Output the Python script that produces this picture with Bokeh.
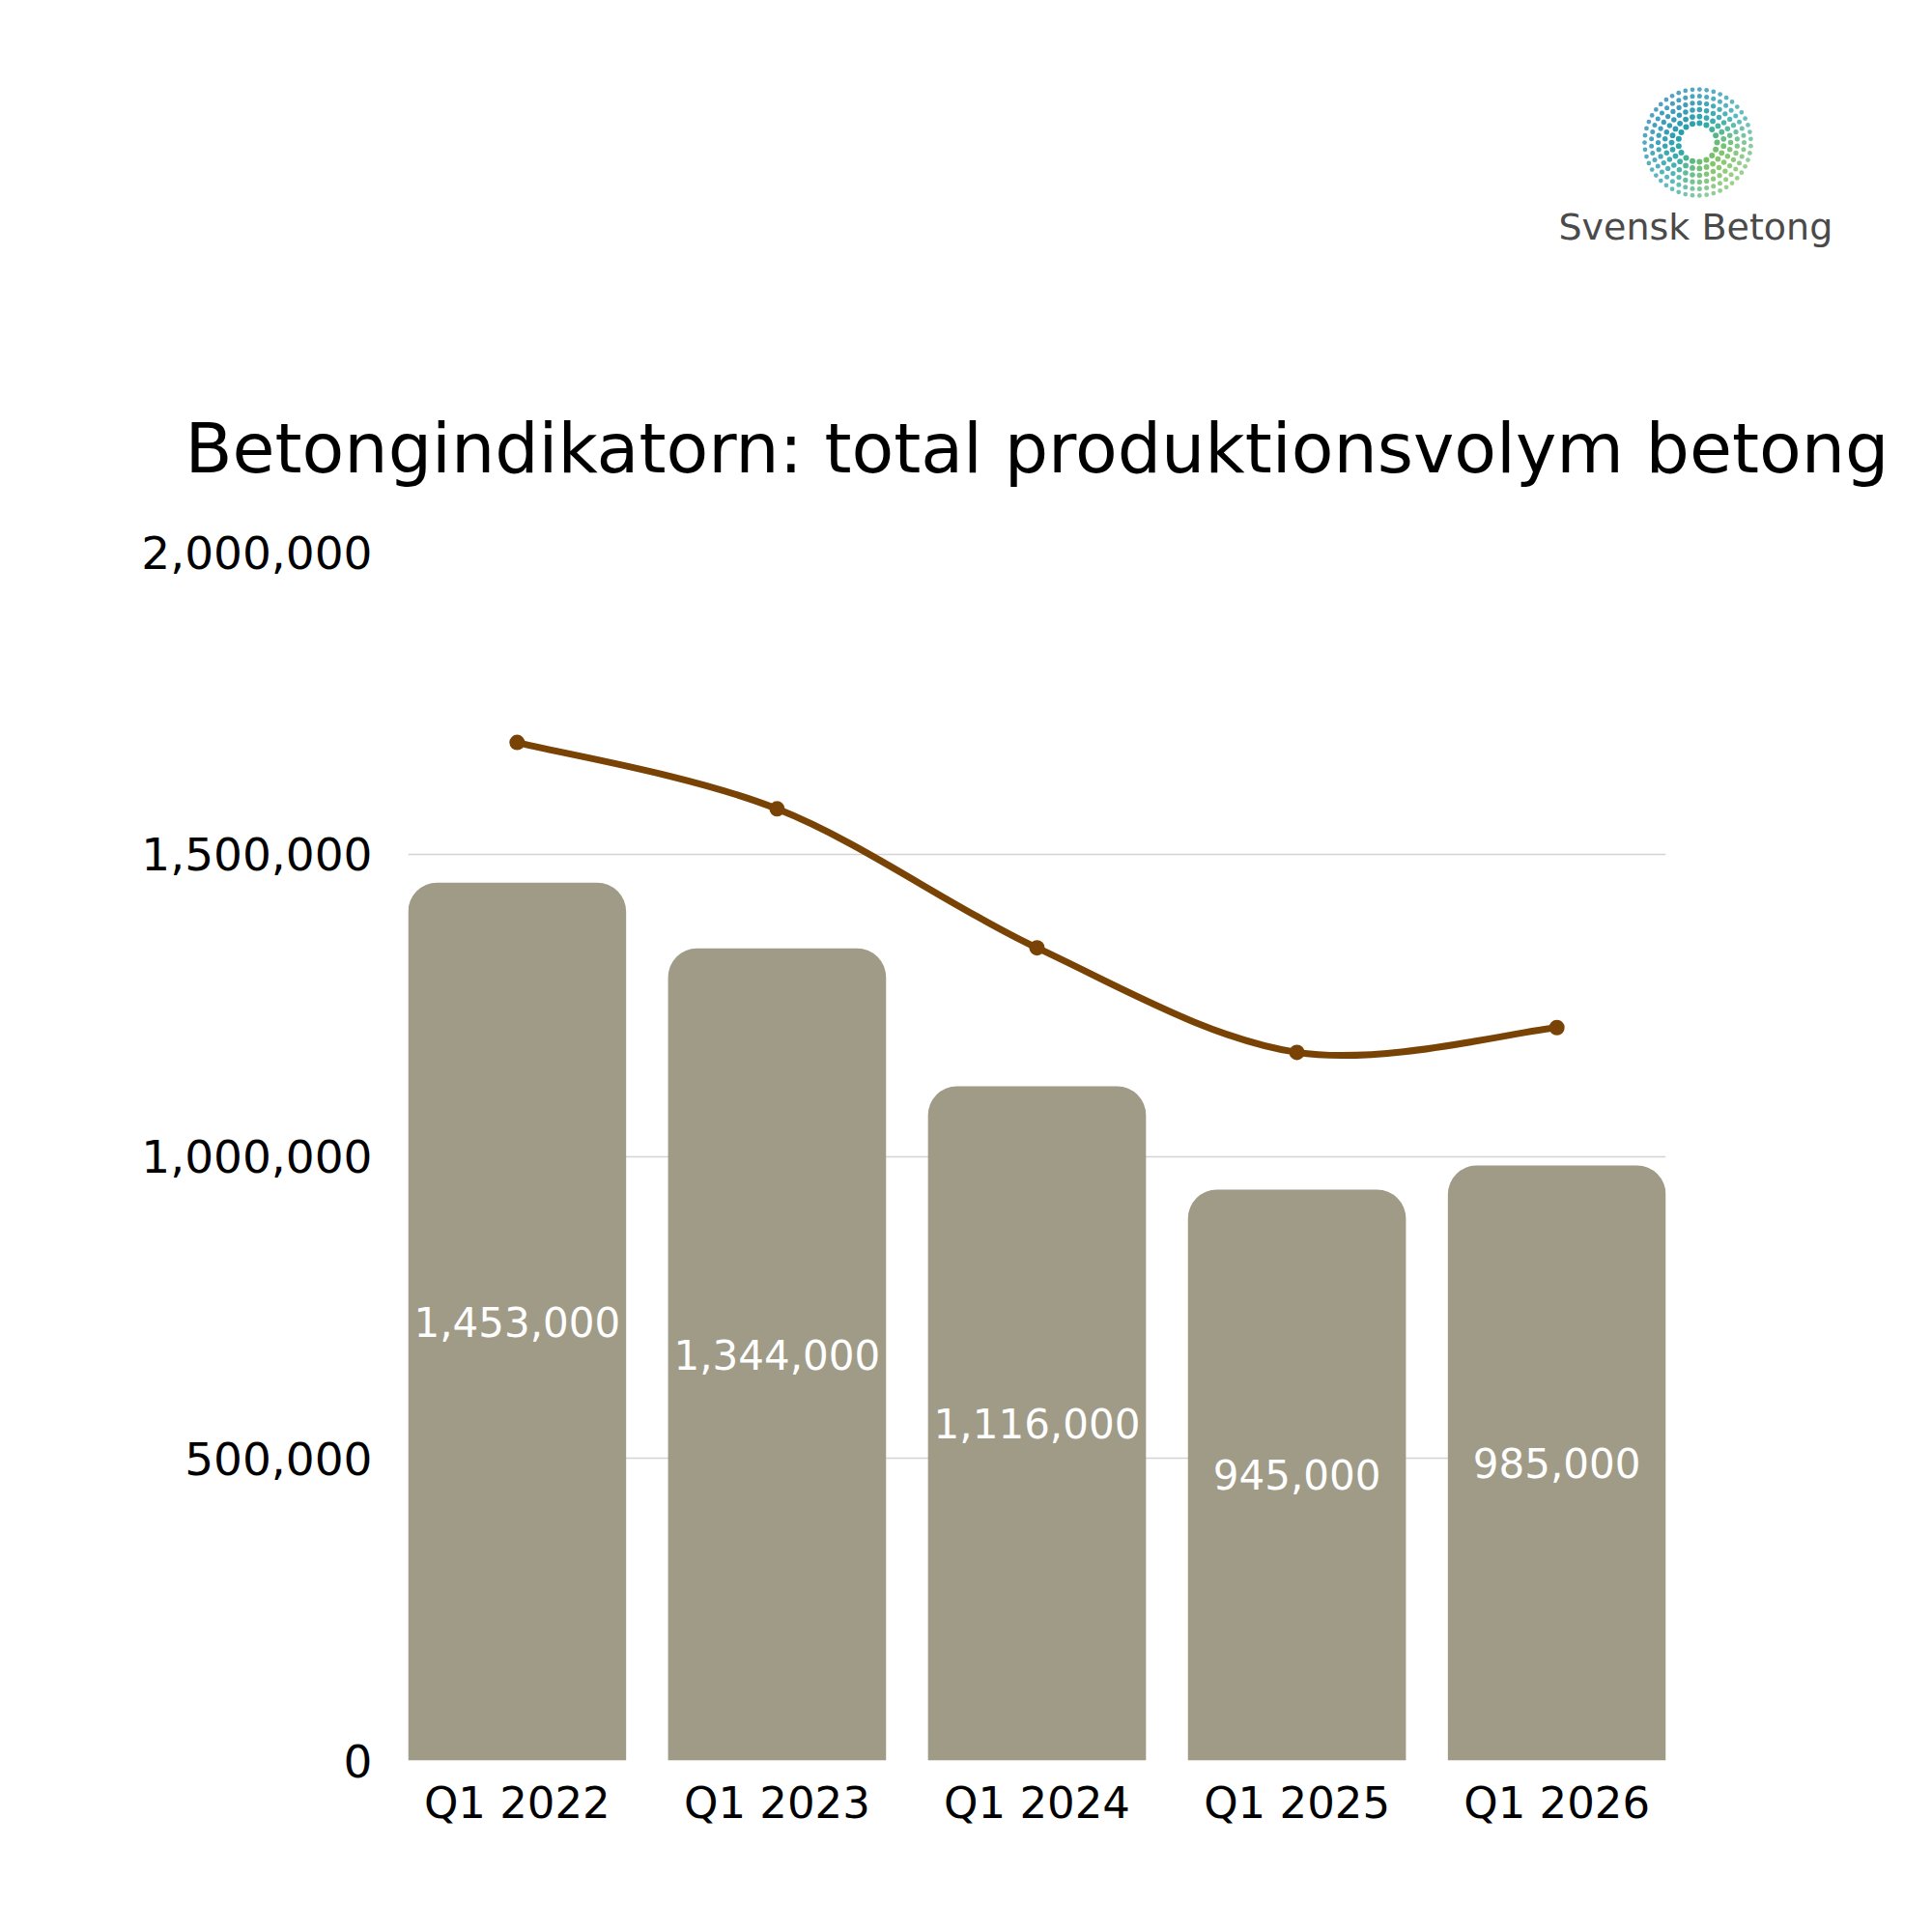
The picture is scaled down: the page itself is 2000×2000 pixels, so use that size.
import numpy as np
from bokeh.plotting import figure
from bokeh.models import (ColumnDataSource, Range1d, FixedTicker, NumeralTickFormatter,
                          Label, LabelSet)
from bokeh.layouts import column
from bokeh.core.properties import value
from bokeh.embed import file_html
from bokeh.resources import INLINE

# ---------------- data ----------------
categories = ["Q1 2022", "Q1 2023", "Q1 2024", "Q1 2025", "Q1 2026"]
bar_values = [1453000, 1344000, 1116000, 945000, 985000]
line_values = [1685000, 1575000, 1345000, 1172000, 1213000]
y_ticks = [0, 500000, 1000000, 1500000, 2000000]
title_text = "Betongindikatorn: total produktionsvolym betong"
logo_text = "Svensk Betong"

FONT = "DejaVu Sans"
BAR_COLOR = "#A09B87"
LINE_COLOR = "#7A4306"

# ---------------- header (logo + title), pixel coordinates ----------------
HW, HH = 1992, 540
head = figure(width=HW, height=HH, x_range=Range1d(0, HW), y_range=Range1d(0, HH),
              toolbar_location=None, output_backend="svg", min_border=0,
              x_axis_type=None, y_axis_type=None, title=None)
head.frame_align = False
head.outline_line_color = None
head.grid.visible = False

cx, cy = 1757, HH - 147
lx, ly, lc, ls, la = [], [], [], [], []
c0 = np.array([22, 130, 178])
c1 = np.array([50, 172, 170])
c2 = np.array([190, 214, 40])
radii = [20, 27, 34, 41, 48, 55]
for k, r in enumerate(radii):
    n_dots = int(round(2 * np.pi * r / 7.4))
    off = (k % 2) * np.pi / n_dots
    for j in range(n_dots):
        th = off + 2 * np.pi * j / n_dots
        dx, dy = r * np.cos(th), r * np.sin(th)
        s = (dx - dy) / (np.sqrt(2) * 55)
        t = (s + 1) / 2
        inner = 1 - k / (len(radii) - 1)
        t = np.clip(t * (0.75 + 0.35 * inner), 0, 1)
        if t < 0.5:
            c = c0 + (c1 - c0) * (t / 0.5)
        else:
            c = c1 + (c2 - c1) * ((t - 0.5) / 0.5)
        lx.append(cx + dx)
        ly.append(cy + dy)
        lc.append("#%02x%02x%02x" % tuple(int(v) for v in c))
        ls.append(6.0 - 0.25 * k)
        la.append(1.0 - 0.05 * k)
head.scatter(x=lx, y=ly, size=ls, fill_color=lc, line_color=None, fill_alpha=la)

head.add_layout(Label(x=1613, y=HH - 234, text=logo_text, text_font=FONT,
                      text_font_size="38px", text_color="#4a4a4a",
                      text_baseline="middle", text_align="left"))
head.add_layout(Label(x=191, y=HH - 464, text=title_text, text_font=FONT,
                      text_font_size="71.5px", text_color="black",
                      text_baseline="middle", text_align="left"))

# ---------------- main chart ----------------
n = len(categories)
xs = list(range(n))
bar_w = 0.8386
p = figure(width=1992, height=1452, toolbar_location=None, output_backend="svg",
           title=None,
           x_range=Range1d(-bar_w / 2, n - 1 + bar_w / 2),
           y_range=Range1d(0, 2000000),
           min_border_left=422, min_border_right=268,
           min_border_top=31, min_border_bottom=170)
p.frame_align = False
p.outline_line_color = None
p.background_fill_color = "white"
p.border_fill_color = "white"

src = ColumnDataSource(dict(x=xs, top=bar_values,
                            mid=[v / 2 for v in bar_values],
                            lab=["{:,}".format(v) for v in bar_values]))
p.vbar(x="x", top="top", width=bar_w, source=src, fill_color=BAR_COLOR,
       line_color=None, border_radius=(30, 30, 0, 0))

p.add_layout(LabelSet(x="x", y="mid", text="lab", source=src, text_align="center",
                      text_baseline="middle", text_color="white",
                      text_font=value(FONT), text_font_size="42px"))

# smooth line (Catmull-Rom style Bezier segments through the data points)
P = list(zip(xs, line_values))
bx0, by0, bx1, by1, cx0, cy0, cx1, cy1 = ([] for _ in range(8))
for i in range(n - 1):
    pm = P[max(i - 1, 0)]
    p0 = P[i]
    p1 = P[i + 1]
    p2 = P[min(i + 2, n - 1)]
    bx0.append(p0[0]); by0.append(p0[1])
    bx1.append(p1[0]); by1.append(p1[1])
    cx0.append(p0[0] + (p1[0] - pm[0]) / 6); cy0.append(p0[1] + (p1[1] - pm[1]) / 6)
    cx1.append(p1[0] - (p2[0] - p0[0]) / 6); cy1.append(p1[1] - (p2[1] - p0[1]) / 6)
p.bezier(x0=bx0, y0=by0, x1=bx1, y1=by1, cx0=cx0, cy0=cy0, cx1=cx1, cy1=cy1,
         line_color=LINE_COLOR, line_width=7, line_cap="round")
p.scatter(x=xs, y=line_values, size=16, fill_color=LINE_COLOR, line_color=None)

# axes
p.xaxis.ticker = FixedTicker(ticks=xs)
p.xaxis.major_label_overrides = {i: c for i, c in enumerate(categories)}
p.yaxis.ticker = FixedTicker(ticks=y_ticks)
p.yaxis.formatter = NumeralTickFormatter(format="0,0")
for ax in (p.xaxis, p.yaxis):
    ax.axis_line_color = None
    ax.major_tick_line_color = None
    ax.minor_tick_line_color = None
    ax.major_label_text_font = FONT
    ax.major_label_text_font_size = "45px"
    ax.major_label_text_color = "black"
p.yaxis.major_label_text_font_size = "47px"
p.yaxis.major_label_standoff = 31
p.xaxis.major_label_standoff = 11

p.xgrid.visible = False
p.ygrid.grid_line_color = "#d4d4d4"
p.ygrid.grid_line_width = 1.5

layout = column(head, p)
open("out.html", "w").write(file_html(layout, INLINE))
